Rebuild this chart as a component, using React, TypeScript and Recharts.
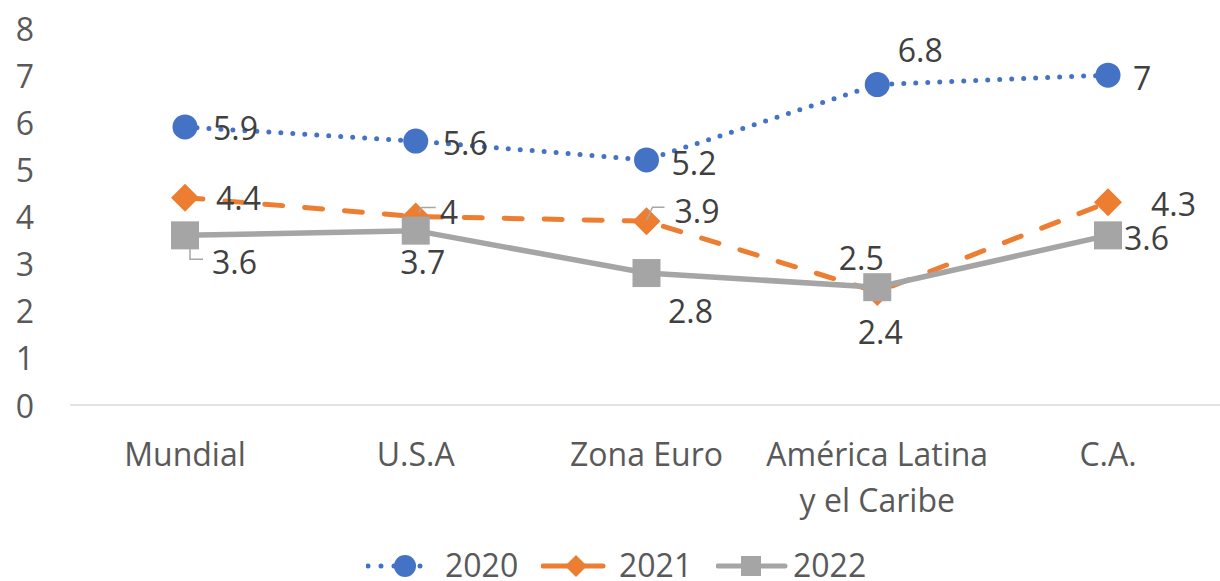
import { LineChart, Line, XAxis, YAxis, LabelList } from "recharts";

const categories = ["Mundial", "U.S.A", "Zona Euro", "América Latina\ny el Caribe", "C.A."];
const values2020 = [5.9, 5.6, 5.2, 6.8, 7];
const values2021 = [4.4, 4, 3.9, 2.4, 4.3];
const values2022 = [3.6, 3.7, 2.8, 2.5, 3.6];
const yTicks = [0, 1, 2, 3, 4, 5, 6, 7, 8];

const data = categories.map((cat, i) => ({
  cat,
  y2020: values2020[i],
  y2021: values2021[i],
  y2022: values2022[i],
}));

const BLUE = "#4472C4";
const ORANGE = "#ED7D31";
const GRAY = "#A5A5A5";
const FONT = "'Open Sans', 'Noto Sans', sans-serif";

// where each data label sits, relative to its point (Excel put them by hand)
type Place = { dx: number; dy: number; anchor: "start" | "middle" | "end"; leader?: [number, number][] };

const place2020: Place[] = [
  { dx: 28, dy: 1, anchor: "start" },
  { dx: 27, dy: 1, anchor: "start" },
  { dx: 25, dy: 3, anchor: "start" },
  { dx: 43, dy: -35, anchor: "middle" },
  { dx: 25, dy: 2, anchor: "start" },
];
const place2021: Place[] = [
  { dx: 31, dy: 0, anchor: "start" },
  { dx: 24, dy: -5, anchor: "start", leader: [[3, -4], [6, -9], [20, -9]] },
  { dx: 28, dy: -11, anchor: "start", leader: [[0, -1], [6, -14], [18, -14]] },
  { dx: 3, dy: 40, anchor: "middle" },
  { dx: 43, dy: 1, anchor: "start" },
];
const place2022: Place[] = [
  { dx: 27, dy: 26, anchor: "start", leader: [[5, 13], [5, 24], [18, 24]] },
  { dx: 7, dy: 31, anchor: "middle" },
  { dx: 44, dy: 37, anchor: "middle" },
  { dx: -16, dy: -30, anchor: "middle" },
  { dx: 16, dy: 2, anchor: "start" },
];

function makeLabel(places: Place[]) {
  return (props: any) => {
    const { x, y, index, value } = props;
    const p = places[index];
    if (!p || x == null || y == null) return null;
    return (
      <g>
        {p.leader && (
          <polyline
            points={p.leader.map(([a, b]) => `${x + a},${y + b}`).join(" ")}
            fill="none"
            stroke="#A6A6A6"
            strokeWidth={1.5}
          />
        )}
        <text
          x={x + p.dx}
          y={y + p.dy}
          textAnchor={p.anchor}
          dominantBaseline="central"
          fontSize={32}
          fontFamily={FONT}
          fill="#404040"
        >
          {value}
        </text>
      </g>
    );
  };
}

const CircleDot = (props: any) => {
  const { cx, cy, index } = props;
  return <circle key={`c${index}`} cx={cx} cy={cy} r={12.5} fill={BLUE} />;
};
const DiamondDot = (props: any) => {
  const { cx, cy, index } = props;
  const h = 14;
  return (
    <path key={`d${index}`} d={`M${cx},${cy - h}L${cx + h},${cy}L${cx},${cy + h}L${cx - h},${cy}Z`} fill={ORANGE} />
  );
};
const SquareDot = (props: any) => {
  const { cx, cy, index } = props;
  const h = 14;
  return <rect key={`s${index}`} x={cx - h} y={cy - h} width={2 * h} height={2 * h} fill={GRAY} />;
};

const XTick = (props: any) => {
  const { x, y, payload } = props;
  const lines = String(payload.value).split("\n");
  return (
    <g>
      {lines.map((t, i) => (
        <text
          key={i}
          x={x}
          y={y + 40 + i * 46}
          textAnchor="middle"
          dominantBaseline="central"
          fontSize={32}
          fontFamily={FONT}
          fill="#595959"
        >
          {t}
        </text>
      ))}
    </g>
  );
};

const YTick = (props: any) => {
  const { y, payload } = props;
  return (
    <text x={25} y={y} textAnchor="middle" dominantBaseline="central" fontSize={32} fontFamily={FONT} fill="#595959">
      {payload.value}
    </text>
  );
};

function LegendItem({ left, kind, label, textLeft }: { left: number; kind: string; label: string; textLeft: number }) {
  return (
    <>
      <svg style={{ position: "absolute", left, top: 551 }} width={72} height={30}>
        {kind === "2020" && (
          <>
            <line x1={2} y1={15} x2={66} y2={15} stroke={BLUE} strokeWidth={5} strokeDasharray="0 13" strokeLinecap="round" />
            <circle cx={39} cy={15} r={11} fill={BLUE} />
          </>
        )}
        {kind === "2021" && (
          <>
            <line x1={2} y1={15} x2={62} y2={15} stroke={ORANGE} strokeWidth={5} strokeLinecap="round" />
            <path d="M35,4L46,15L35,26L24,15Z" fill={ORANGE} />
          </>
        )}
        {kind === "2022" && (
          <>
            <line x1={2} y1={15} x2={69} y2={15} stroke={GRAY} strokeWidth={5} strokeLinecap="round" />
            <rect x={25} y={5} width={20} height={20} fill={GRAY} />
          </>
        )}
      </svg>
      <div
        style={{
          position: "absolute",
          left: textLeft,
          top: 549,
          fontSize: 32,
          lineHeight: "32px",
          fontFamily: FONT,
          color: "#595959",
        }}
      >
        {label}
      </div>
    </>
  );
}

export default function App() {
  return (
    <div style={{ position: "relative", width: 1220, height: 581, background: "#fff", overflow: "hidden" }}>
      <style>{"body{margin:0;overflow:hidden}"}</style>
      <LineChart width={1224} height={581} data={data} margin={{ top: 28, right: 0, bottom: 0, left: 0 }}>
        <XAxis
          dataKey="cat"
          height={176}
          padding={{ left: 115, right: 116 }}
          axisLine={{ stroke: "#D9D9D9", strokeWidth: 1.5 }}
          tickLine={false}
          tick={<XTick />}
          interval={0}
        />
        <YAxis width={70} domain={[0, 8]} ticks={yTicks} axisLine={false} tickLine={false} tick={<YTick />} />
        <Line
          dataKey="y2020"
          stroke={BLUE}
          strokeWidth={5}
          strokeDasharray="0 12"
          strokeLinecap="round"
          dot={CircleDot}
          activeDot={false}
          isAnimationActive={false}
        >
          <LabelList dataKey="y2020" content={makeLabel(place2020)} />
        </Line>
        <Line
          dataKey="y2021"
          stroke={ORANGE}
          strokeWidth={5}
          strokeDasharray="18 22"
          strokeLinecap="round"
          dot={DiamondDot}
          activeDot={false}
          isAnimationActive={false}
        >
          <LabelList dataKey="y2021" content={makeLabel(place2021)} />
        </Line>
        <Line
          dataKey="y2022"
          stroke={GRAY}
          strokeWidth={5.5}
          dot={SquareDot}
          activeDot={false}
          isAnimationActive={false}
        >
          <LabelList dataKey="y2022" content={makeLabel(place2022)} />
        </Line>
      </LineChart>
      <LegendItem left={366} kind="2020" label="2020" textLeft={445} />
      <LegendItem left={541} kind="2021" label="2021" textLeft={619} />
      <LegendItem left={716} kind="2022" label="2022" textLeft={793} />
    </div>
  );
}
